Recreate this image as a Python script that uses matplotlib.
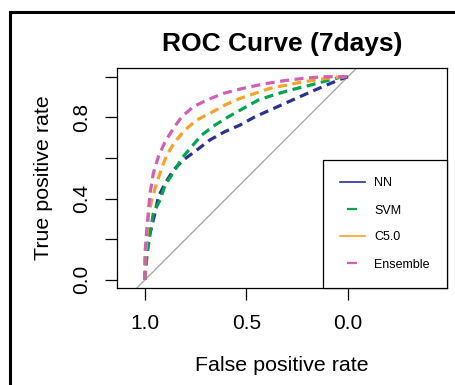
import numpy as np
import matplotlib
matplotlib.use("Agg")
import matplotlib.pyplot as plt
from matplotlib.lines import Line2D

plt.rcParams['font.family'] = ['Liberation Sans', 'DejaVu Sans']
plt.rcParams['lines.scale_dashes'] = False

# specificity (x, reversed axis) and sensitivity (y)
nn_x = [1.0, 0.992, 0.975, 0.951, 0.934, 0.901, 0.860, 0.811, 0.745, 0.680, 0.606,
        0.532, 0.458, 0.384, 0.310, 0.236, 0.171, 0.105, 0.039, 0.0]
nn_y = [0.0, 0.131, 0.230, 0.328, 0.410, 0.475, 0.541, 0.590, 0.639, 0.689, 0.730,
        0.762, 0.803, 0.836, 0.869, 0.902, 0.931, 0.959, 0.987, 1.0]

svm_x = [1.0, 1.0, 0.984, 0.975, 0.959, 0.926, 0.901, 0.852, 0.819, 0.770, 0.721, 0.655,
         0.589, 0.516, 0.442, 0.368, 0.286, 0.204, 0.105, 0.039, 0.0]
svm_y = [0.0, 0.033, 0.164, 0.230, 0.328, 0.393, 0.467, 0.541, 0.598, 0.656, 0.713, 0.762,
         0.803, 0.844, 0.885, 0.910, 0.934, 0.954, 0.980, 0.997, 1.0]

c50_x = [1.0, 1.0, 0.992, 0.984, 0.967, 0.943, 0.918, 0.893, 0.852, 0.803, 0.745, 0.680,
         0.606, 0.532, 0.458, 0.384, 0.302, 0.220, 0.138, 0.072, 0.0]
c50_y = [0.0, 0.098, 0.197, 0.311, 0.393, 0.475, 0.549, 0.615, 0.680, 0.738, 0.787, 0.820,
         0.861, 0.893, 0.918, 0.943, 0.959, 0.975, 0.987, 0.997, 1.0]

ens_x = [1.0, 1.0, 0.992, 0.984, 0.975, 0.959, 0.934, 0.901, 0.860, 0.819, 0.762, 0.696,
         0.614, 0.516, 0.417, 0.319, 0.220, 0.122, 0.0]
ens_y = [0.0, 0.131, 0.238, 0.328, 0.426, 0.525, 0.607, 0.680, 0.746, 0.803, 0.852, 0.885,
         0.918, 0.943, 0.964, 0.980, 0.992, 1.0, 1.0]

labels = ["NN", "SVM", "C5.0", "Ensemble"]
colors = ["#2B3292", "#00A550", "#F8A325", "#D35FB5"]

fig = plt.figure(figsize=(4.55, 3.85), dpi=100)

# outer frame (cropped at right and bottom)
fig.add_artist(Line2D([10/455, 10/455], [0, 1 - 12/385], transform=fig.transFigure,
                      color="black", lw=2.2))
fig.add_artist(Line2D([10/455, 1], [1 - 12/385, 1 - 12/385], transform=fig.transFigure,
                      color="black", lw=2.2))

ax = fig.add_axes([117/455, 1 - 288/385, 330/455, 220/385])

ax.plot([1.2, -0.6], [-0.2, 1.6], color="#AAAAAA", lw=1.0)
for xs, ys, c in zip([nn_x, svm_x, c50_x, ens_x], [nn_y, svm_y, c50_y, ens_y], colors):
    ax.plot(xs, ys, color=c, lw=2.3, linestyle=(0, (6.5, 4.0)), dash_capstyle="butt")

ax.set_xlim(1.138, -0.488)
ax.set_ylim(-0.04, 1.043)

ax.set_xticks([1.0, 0.5, 0.0])
ax.set_xticklabels(["1.0", "0.5", "0.0"])
ax.set_yticks([0.0, 0.2, 0.4, 0.6, 0.8, 1.0])
ax.set_yticklabels(["0.0", "", "0.4", "", "0.8", ""], rotation=90, va="center")
ax.tick_params(length=8.5, width=0.9, labelsize=15, pad=10)
for s in ax.spines.values():
    s.set_linewidth(0.9)

ax.set_title("ROC Curve (7days)", fontsize=19, fontweight="bold", pad=12)
ax.set_xlabel("False positive rate", fontsize=15.4, labelpad=17)
ax.set_ylabel("True positive rate", fontsize=15.4, labelpad=14)

handles = [
    Line2D([], [], color=colors[0], lw=1.2, linestyle="-"),
    Line2D([], [], color=colors[1], lw=1.6, linestyle=(13, (7.2, 10.8))),
    Line2D([], [], color=colors[2], lw=1.2, linestyle="-"),
    Line2D([], [], color=colors[3], lw=1.6, linestyle=(13, (7.2, 10.8))),
]
leg = ax.legend(handles, labels, loc="lower right", bbox_to_anchor=(1, 0), borderaxespad=0,
                fontsize=9, frameon=True, fancybox=False, edgecolor="black", framealpha=1,
                handlelength=2.0, handletextpad=0.7, borderpad=1.4, labelspacing=1.2)
leg.get_frame().set_linewidth(0.9)

fig.savefig("out.png", dpi=100)
